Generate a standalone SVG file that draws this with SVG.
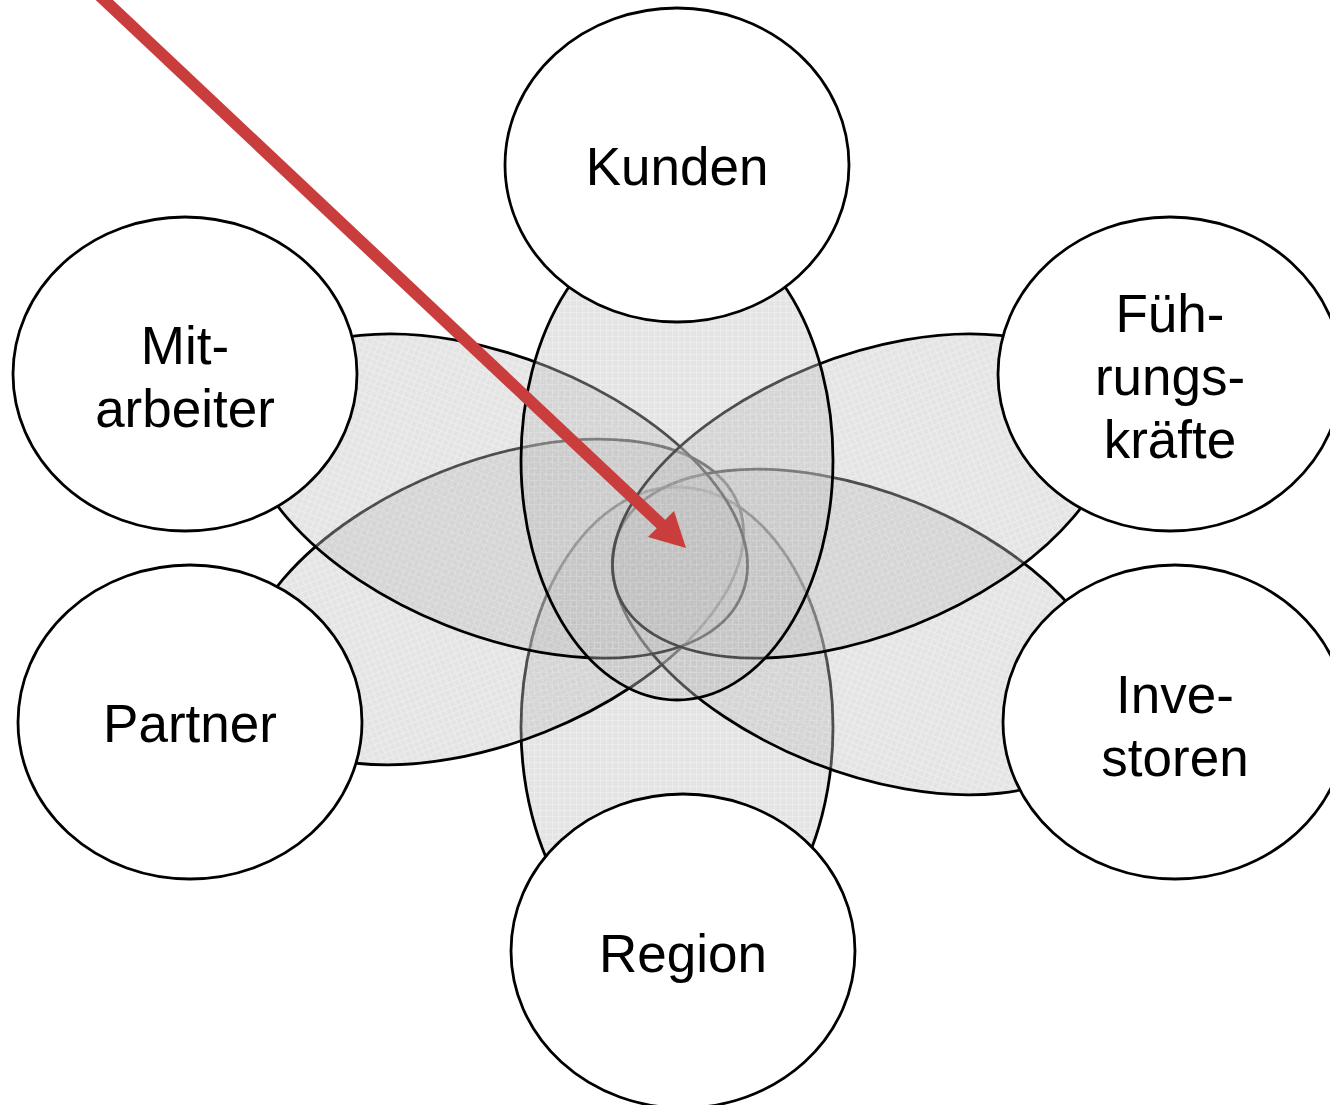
<svg xmlns="http://www.w3.org/2000/svg" width="1330" height="1105" viewBox="0 0 1330 1105">
  <defs>
    <pattern id="grid" width="6" height="6" patternUnits="userSpaceOnUse">
      <rect width="6" height="6" fill="#bcbcbc"/>
      <path d="M0 0.5H6M0.5 0V6" stroke="#d2d2d2" stroke-width="1"/>
    </pattern>
  </defs>
  <style>
    .petal { fill: url(#grid); fill-opacity: 0.4; stroke: #000; stroke-width: 2.8; }
    .node { fill: #fff; stroke: #000; stroke-width: 2.8; }
    .lbl { font-family: "Liberation Sans", Arial, sans-serif; font-size: 53px; fill: #000; text-anchor: middle; }
    .arrow { stroke: #c93d3d; stroke-width: 12; fill: none; }
    .head { fill: #c93d3d; }
  </style>
  <rect width="1330" height="1105" fill="#fff"/>
  <g id="petals">
    <ellipse class="petal" cx="677" cy="727" rx="156" ry="240"/>
    <ellipse class="petal" cx="493" cy="602" rx="264" ry="140" transform="rotate(-21.8 493 602)"/>
    <ellipse class="petal" cx="863" cy="632" rx="264" ry="140" transform="rotate(21.8 863 632)"/>
    <ellipse class="petal" cx="497" cy="496" rx="264" ry="139" transform="rotate(21.8 497 496)"/>
    <ellipse class="petal" cx="863" cy="496" rx="264" ry="139" transform="rotate(-21.8 863 496)"/>
    <ellipse class="petal" cx="677" cy="460" rx="156" ry="240"/>
  </g>
  <g id="node-kunden">
    <ellipse class="node" cx="677" cy="165" rx="172" ry="157"/>
    <text class="lbl" x="677" y="185">Kunden</text>
  </g>
  <g id="node-mitarbeiter">
    <ellipse class="node" cx="185" cy="374" rx="172" ry="157"/>
    <text class="lbl" x="185" y="364">Mit-</text>
    <text class="lbl" x="185" y="427">arbeiter</text>
  </g>
  <g id="node-fuehrungskraefte">
    <ellipse class="node" cx="1170" cy="374" rx="172" ry="157"/>
    <text class="lbl" x="1170" y="332">Füh-</text>
    <text class="lbl" x="1170" y="395">rungs-</text>
    <text class="lbl" x="1170" y="458">kräfte</text>
  </g>
  <g id="node-partner">
    <ellipse class="node" cx="190" cy="722" rx="172" ry="157"/>
    <text class="lbl" x="190" y="742">Partner</text>
  </g>
  <g id="node-investoren">
    <ellipse class="node" cx="1175" cy="722" rx="172" ry="157"/>
    <text class="lbl" x="1175" y="713">Inve-</text>
    <text class="lbl" x="1175" y="776">storen</text>
  </g>
  <g id="node-region">
    <ellipse class="node" cx="683" cy="951" rx="172" ry="157"/>
    <text class="lbl" x="683" y="972">Region</text>
  </g>
  <g id="connectors">
    <line class="arrow" x1="100" y1="-4" x2="664" y2="527"/>
    <polygon class="head" points="686,548 648,537 674,511"/>
  </g>
</svg>
